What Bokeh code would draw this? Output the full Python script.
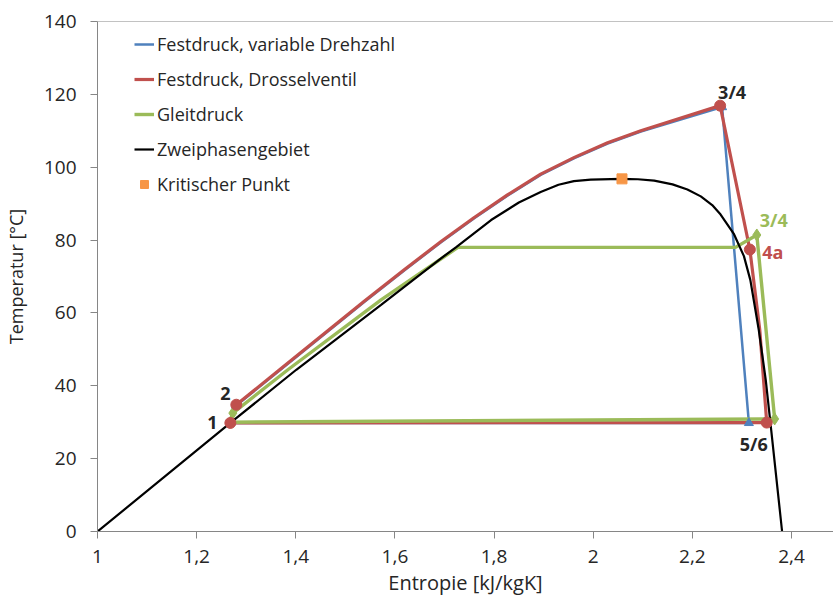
from bokeh.plotting import figure
from bokeh.models import FixedTicker, Span, Legend, LegendItem
from bokeh.core.properties import value
from bokeh.embed import file_html
from bokeh.resources import INLINE

# ---------------- data ----------------
x_ticks = [1.0, 1.2, 1.4, 1.6, 1.8, 2.0, 2.2, 2.4]
x_tick_labels = ["1", "1,2", "1,4", "1,6", "1,8", "2", "2,2", "2,4"]
y_ticks = [0, 20, 40, 60, 80, 100, 120, 140]
y_tick_labels = ["0", "20", "40", "60", "80", "100", "120", "140"]
x_title = "Entropie [kJ/kgK]"
y_title = "Temperatur [°C]"

# Zweiphasengebiet (saturation curve)
sat_s = [1.000, 1.268, 1.401, 1.572, 1.693, 1.723, 1.794, 1.850, 1.894, 1.930, 1.961, 1.995,
         2.056, 2.090, 2.123, 2.160, 2.190, 2.217, 2.240, 2.257, 2.284, 2.304, 2.317, 2.334,
         2.348, 2.359, 2.381]
sat_T = [0.0, 29.8, 44.4, 62.2, 75.0, 78.0, 85.5, 90.3, 93.2, 95.2, 96.2, 96.6,
         96.8, 96.7, 96.3, 95.3, 93.9, 92.0, 89.6, 87.0, 81.6, 75.6, 69.0, 55.3,
         41.6, 27.9, 0.0]

# Festdruck, variable Drehzahl
blue_s = [1.268, 1.280, 1.371, 1.538, 1.620, 1.693, 1.760, 1.827, 1.894, 1.962, 2.029, 2.096, 2.260, 2.314, 1.268]
blue_T = [29.8, 34.6, 44.6, 63.0, 71.8, 79.4, 86.0, 92.2, 97.9, 102.5, 106.5, 109.8, 116.5, 29.8, 29.8]
blue_state_s = [1.268, 1.280, 2.260, 2.314]
blue_state_T = [29.8, 34.6, 116.5, 29.8]

# Festdruck, Drosselventil
red_s = [1.268, 1.280, 1.371, 1.538, 1.620, 1.693, 1.760, 1.827, 1.894, 1.962, 2.029, 2.096, 2.256,
         2.316, 2.336, 2.350, 1.268]
red_T = [29.8, 34.8, 44.8, 63.2, 72.0, 79.6, 86.2, 92.4, 98.1, 102.7, 106.7, 110.0, 116.9,
         77.4, 55.3, 29.9, 29.8]
red_state_s = [1.268, 1.280, 2.256, 2.316, 2.350]
red_state_T = [29.8, 34.8, 116.9, 77.4, 29.9]

# Gleitdruck
green_s = [1.268, 1.273, 1.384, 1.572, 1.727, 2.287, 2.330, 2.366, 1.268]
green_T = [30.0, 32.5, 44.4, 63.6, 78.0, 78.0, 81.4, 30.9, 30.0]
green_state_s = [1.268, 1.273, 2.330, 2.366]
green_state_T = [30.0, 32.5, 81.4, 30.9]

# Kritischer Punkt
crit_s = [2.058]
crit_T = [96.8]

# ---------------- styles ----------------
BLUE = "#4F81BD"
RED = "#C0504D"
GREEN = "#9BBB59"
ORANGE = "#F79646"
AXIS = "#868686"
TXT = "#262626"
FONT = "Open Sans"

p = figure(width=833, height=598, output_backend="svg", toolbar_location=None,
           x_range=(1.0, 2.4847), y_range=(0, 140),
           min_border_left=96, min_border_top=21, min_border_bottom=66, min_border_right=0,
           background_fill_color="white", border_fill_color="white")
p.outline_line_color = None
p.xgrid.grid_line_color = None
p.ygrid.grid_line_color = None

for ax, ticks, labels in ((p.xaxis[0], x_ticks, x_tick_labels), (p.yaxis[0], y_ticks, y_tick_labels)):
    ax.ticker = FixedTicker(ticks=ticks)
    ax.major_label_overrides = {t: l for t, l in zip(ticks, labels)}
    ax.axis_line_color = AXIS
    ax.major_tick_line_color = AXIS
    ax.minor_tick_line_color = None
    ax.major_tick_in = 0
    ax.major_tick_out = 7
    ax.major_label_text_font = FONT
    ax.major_label_text_font_size = "19px"
    ax.major_label_text_color = TXT
    ax.axis_label_text_font = FONT
    ax.axis_label_text_font_style = "normal"
    ax.axis_label_text_color = TXT

p.xaxis.axis_label = x_title
p.yaxis.axis_label = y_title
p.xaxis.axis_label_text_font_size = "20px"
p.yaxis.axis_label_text_font_size = "18px"
p.xaxis.major_label_standoff = 11
p.yaxis.major_label_standoff = 14
p.xaxis.axis_label_standoff = 3
p.yaxis.axis_label_standoff = 13

p.add_layout(Span(location=140, dimension="width", line_color=AXIS, line_width=1))

# lines
l_blue = p.line(blue_s, blue_T, line_color=BLUE, line_width=2.5)
l_red = p.line(red_s, red_T, line_color=RED, line_width=3.2)
l_green = p.line(green_s, green_T, line_color=GREEN, line_width=3.4)
l_black = p.line(sat_s, sat_T, line_color="black", line_width=2.2)

# markers
p.scatter(green_state_s, green_state_T, marker="diamond", size=12, fill_color=GREEN, line_color=GREEN)
p.scatter(blue_state_s, blue_state_T, marker="triangle", size=9, fill_color=BLUE, line_color=BLUE)
p.scatter(red_state_s, red_state_T, marker="circle", size=11, fill_color=RED, line_color=RED)
m_crit = p.scatter(crit_s, crit_T, marker="square", size=10, fill_color=ORANGE, line_color=ORANGE)

# point labels
def lab(x, y, t, dx, dy, color):
    p.text(x=[x], y=[y], text=[t], x_offset=dx, y_offset=dy, text_align="center",
           text_baseline="middle", text_font=value(FONT), text_font_style="bold",
           text_font_size="18px", text_color=color)

lab(red_state_s[0], red_state_T[0], "1", -18, 0, TXT)
lab(red_state_s[1], red_state_T[1], "2", -11, -11, TXT)
lab(red_state_s[2], red_state_T[2], "3/4", 12, -14, TXT)
lab(red_state_s[4], red_state_T[4], "5/6", -13, 21, TXT)
lab(green_state_s[2], green_state_T[2], "3/4", 17, -15, GREEN)
lab(red_state_s[3], red_state_T[3], "4a", 23, 2, RED)

legend = Legend(items=[
    LegendItem(label="Festdruck, variable Drehzahl", renderers=[l_blue]),
    LegendItem(label="Festdruck, Drosselventil", renderers=[l_red]),
    LegendItem(label="Gleitdruck", renderers=[l_green]),
    LegendItem(label="Zweiphasengebiet", renderers=[l_black]),
    LegendItem(label="Kritischer Punkt", renderers=[m_crit]),
], location=(37, 335), padding=5, margin=0, spacing=11,
   glyph_width=20, glyph_height=20, label_height=20, label_standoff=3,
   label_text_font=FONT, label_text_font_size="18px", label_text_color=TXT,
   background_fill_alpha=0, border_line_color=None)
p.add_layout(legend)

open("out.html", "w").write(file_html(p, INLINE))
